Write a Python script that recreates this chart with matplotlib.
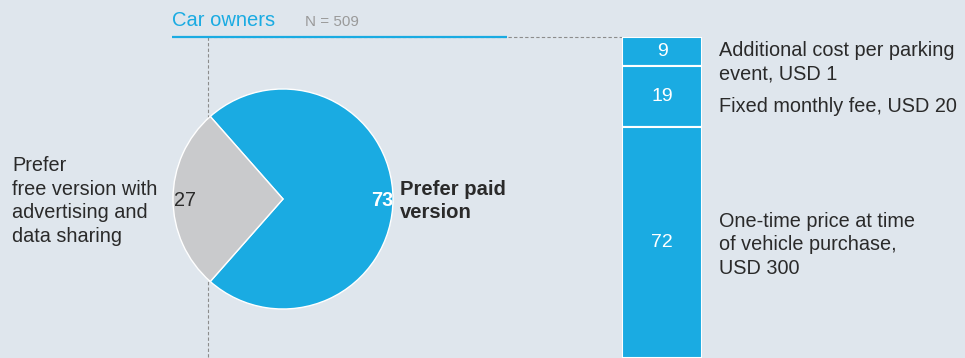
import matplotlib.pyplot as plt

plt.rcParams['font.family'] = ['Liberation Sans', 'DejaVu Sans']

# survey data
pie_labels = ['Prefer paid\nversion', 'Prefer\nfree version with\nadvertising and\ndata sharing']
pie_values = [73, 27]
price_labels = ['Additional cost per parking\nevent, USD 1',
                'Fixed monthly fee, USD 20',
                'One-time price at time\nof vehicle purchase,\nUSD 300']
price_values = [9, 19, 72]
group = 'Car owners'
n_resp = 509

BG = '#dfe6ed'
BLUE = '#1aabe2'
GREY = '#c9cacc'
TXT = '#2a2a2a'
LS = 1.33

fig = plt.figure(figsize=(9.65, 3.58), dpi=100)
fig.patch.set_facecolor(BG)

# main canvas in pixel units
ax = fig.add_axes([0, 0, 1, 1])
ax.set_facecolor(BG)

# guide lines
ax.plot([208, 208], [37, 358], color='#8c8c8c', lw=0.8, ls=(0, (3, 2)), zorder=1)
ax.plot([208, 622], [37, 37], color='#8c8c8c', lw=0.8, ls=(0, (3, 2)), zorder=1)
ax.plot([172, 507], [37, 37], color=BLUE, lw=1.6, zorder=2, solid_capstyle='butt')

# pie: grey wedge centred on the left
start = 180 - pie_values[1] / 100 * 360 / 2 - pie_values[0] / 100 * 360
ax.pie(pie_values, colors=[BLUE, GREY], center=(283, 199), radius=110,
       startangle=start, wedgeprops=dict(edgecolor='white', linewidth=1))
ax.set_xlim(0, 965)
ax.set_ylim(358, 0)
ax.set_aspect('equal')
ax.axis('off')

ax.text(393, 201, str(pie_values[0]), color='white', fontsize=14.3, fontweight='bold',
        ha='right', va='center')
ax.text(174, 201, str(pie_values[1]), color=TXT, fontsize=14.3, ha='left', va='center')
ax.text(400, 201, pie_labels[0], color=TXT, fontsize=14.6, fontweight='bold',
        ha='left', va='center', linespacing=LS)
ax.text(12, 201, pie_labels[1], color=TXT, fontsize=14.3, ha='left', va='center',
        linespacing=LS)

ax.text(172, 21, group, color=BLUE, fontsize=14.5, ha='left', va='center')
ax.text(305, 22, f'N = {n_resp}', color='#9a9a9a', fontsize=11, ha='left', va='center')

# stacked bar
bx = fig.add_axes([622 / 965, 0, 80 / 965, 321 / 358])
bx.set_facecolor('none')
bottom = 0
for v in price_values:
    bx.bar(0, v, bottom=bottom, width=1, color=BLUE, edgecolor='white', linewidth=1.5)
    bx.text(0, bottom + v / 2, str(v), color='white', fontsize=14, ha='center', va='center')
    bottom += v
bx.set_xlim(-0.5, 0.5)
bx.set_ylim(100, 0)
bx.axis('off')

label_y = [62, 106, 245]
for lab, y in zip(price_labels, label_y):
    ax.text(719, y, lab, color=TXT, fontsize=14.3, ha='left', va='center', linespacing=LS)

fig.savefig('out.png', dpi=100, facecolor=BG)
